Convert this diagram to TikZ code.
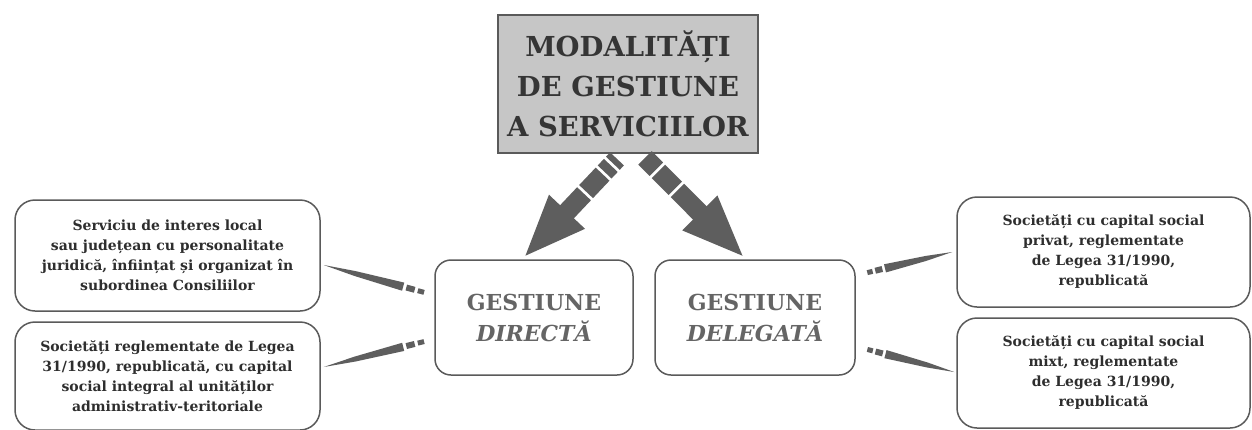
\documentclass[tikz,border=0pt]{standalone}
\usepackage{fontspec}
\setmainfont{DejaVu Serif}
\usetikzlibrary{calc,arrows.meta}
\definecolor{boxline}{HTML}{5A5A5A}
\definecolor{titlefill}{HTML}{C6C6C6}
\definecolor{titletext}{HTML}{353535}
\definecolor{gesttext}{HTML}{656565}
\definecolor{sidetext}{HTML}{2E2E2E}
\definecolor{arrowgray}{HTML}{5E5E5E}
\newcommand\brushstroke[2]{%
  \fill[arrowgray] (#1)
    -- ($(#1)!0.3!(#2)!2.5pt!90:(#2)$)
    -- ($(#1)!0.76!(#2)!4.2pt!90:(#2)$)
    -- ($(#1)!0.76!(#2)!4.2pt!-90:(#2)$)
    -- ($(#1)!0.3!(#2)!2.5pt!-90:(#2)$) -- cycle;
  \draw[arrowgray,line width=6pt] ($(#1)!0.79!(#2)$) -- ($(#1)!0.87!(#2)$);
  \draw[arrowgray,line width=5pt] ($(#1)!0.9!(#2)$) -- ($(#1)!0.96!(#2)$);
}
\begin{document}
\begin{tikzpicture}[x=1pt,y=-1pt,
  titlebox/.style={draw=boxline,line width=1.8pt,fill=titlefill,minimum width=260pt,minimum height=138pt,inner sep=0pt,align=center,text=titletext,font=\fontsize{27.5}{40}\selectfont\bfseries},
  gestbox/.style={draw=boxline,line width=1.5pt,rounded corners=16pt,minimum height=115pt,inner sep=0pt,align=center,text=gesttext,font=\fontsize{22}{31}\selectfont\bfseries},
  sidebox/.style={draw=boxline,line width=1.5pt,rounded corners=20pt,minimum width=305pt,minimum height=110pt,inner sep=0pt,align=center,text=sidetext,font=\fontsize{14}{20}\selectfont\bfseries},
  arrowshaft/.style={arrowgray,line width=19pt},
  arrowbody/.style={arrowgray,line width=19pt,-{Triangle[length=64pt,width=44pt]}}
]
\useasboundingbox (0,0) rectangle (1252,429);
\fill[white] (0,0) rectangle (1252,429);

\node[titlebox] (title) at (628,84) {MODALITĂȚI\\DE GESTIUNE\\A SERVICIILOR};

\node[gestbox,minimum width=198pt] (dir) at (534,317.5) {GESTIUNE\\\textit{DIRECTĂ}};
\node[gestbox,minimum width=200pt] (del) at (755,317.5) {GESTIUNE\\\textit{DELEGATĂ}};

\node[sidebox,minimum height=111pt] (lt) at (167.5,255.5) {Serviciu de interes local\\sau județean cu personalitate\\juridică, înființat și organizat în\\subordinea Consiliilor};
\node[sidebox,minimum height=108pt] (lb) at (167.5,376) {Societăți reglementate de Legea\\31/1990, republicată, cu capital\\social integral al unităților\\administrativ-teritoriale};
\node[sidebox,minimum width=293pt] (rt) at (1103.5,252) {Societăți cu capital social\\privat, reglementate\\de Legea 31/1990,\\republicată};
\node[sidebox,minimum width=293pt] (rb) at (1103.5,373) {Societăți cu capital social\\mixt, reglementate\\de Legea 31/1990,\\republicată};

% big arrows
\coordinate (la1) at ($(title.south)+(-11,5)$);
\coordinate (la2) at ($(dir.north)+(-11,-1)$);
\coordinate (ra1) at ($(title.south)+(17,4)$);
\coordinate (ra2) at ($(del.north)+(-10,-1)$);
\draw[arrowshaft,dash pattern=on 6pt off 3pt on 9pt off 3pt on 24pt off 10pt] (la1) -- ($(la1)!45pt!(la2)$);
\draw[arrowbody] ($(la1)!48pt!(la2)$) -- (la2);
\draw[arrowshaft,dash pattern=on 16pt off 3pt on 24pt off 10pt] (ra1) -- ($(ra1)!43pt!(ra2)$);
\draw[arrowbody] ($(ra1)!46pt!(ra2)$) -- (ra2);

% brush connectors
\coordinate (c1a) at ($(lt.east)+(3,9.5)$);
\coordinate (c1b) at ($(dir.west)+(-6,-24)$);
\coordinate (c2a) at ($(lb.east)+(3,-9)$);
\coordinate (c2b) at ($(dir.west)+(-6,23)$);
\coordinate (c3a) at ($(rt.west)+(-4,0)$);
\coordinate (c3b) at ($(del.east)+(8,-44)$);
\coordinate (c4a) at ($(rb.west)+(-2,-1)$);
\coordinate (c4b) at ($(del.east)+(8,31)$);
\brushstroke{c1a}{c1b}
\brushstroke{c2a}{c2b}
\brushstroke{c3a}{c3b}
\brushstroke{c4a}{c4b}
\end{tikzpicture}
\end{document}
